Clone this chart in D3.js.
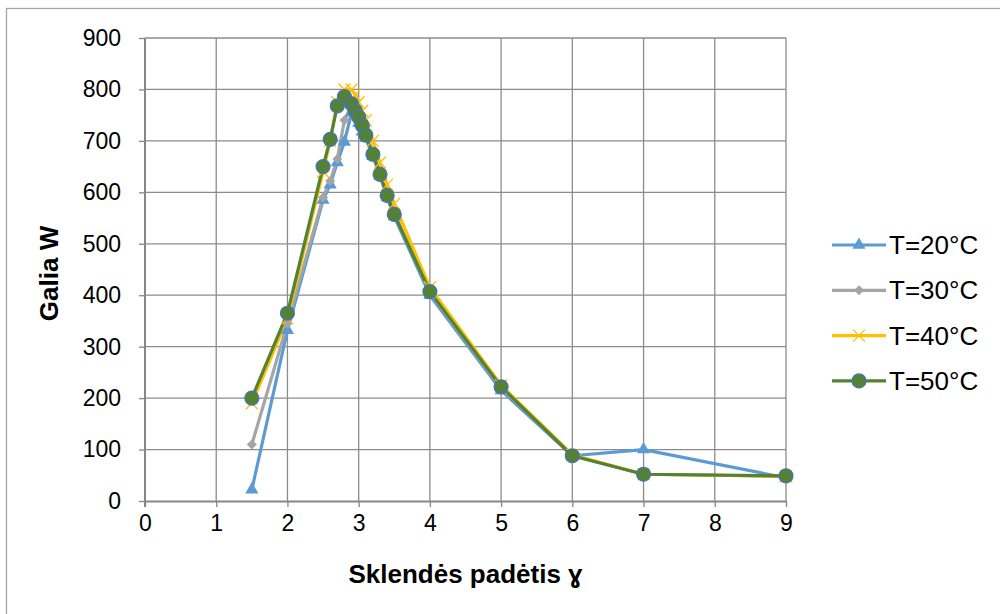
<!DOCTYPE html>
<html>
<head>
<meta charset="utf-8">
<script src="https://cdn.jsdelivr.net/npm/d3@7"></script>
<style>
  body { margin: 0; background: #fff; }
  text { font-family: "Liberation Sans", Arial, sans-serif; }
</style>
</head>
<body>
<div id="chart"></div>
<script>
// Data
var positions = [1.5, 2, 2.5, 2.6, 2.7, 2.8, 2.9, 2.95, 3.0, 3.05, 3.1, 3.2, 3.3, 3.4, 3.5, 4, 5, 6, 7, 9];
var t20 = [22, 332, 585, 615, 658, 698, 755, 750, 735, 718, 705, 670, 632, 590, 553, 400, 215, 88, 100, 45];
var t30 = [110, 345, 590, 622, 665, 740, 770, 760, 748, 733, 715, 678, 640, 598, 560, 405, 220, 88, 52, 48];
var t40 = [190, 355, 640, 700, 775, 800, 800, 790, 775, 758, 740, 700, 658, 615, 578, 415, 225, 90, 52, 48];
var t50 = [200, 365, 650, 703, 768, 786, 772, 759, 746, 730, 711, 674, 635, 594, 557, 407, 222, 88, 52, 49];
var seriesNames = ["T=20°C", "T=30°C", "T=40°C", "T=50°C"];
var xTicks = [0, 1, 2, 3, 4, 5, 6, 7, 8, 9];
var yTicks = [0, 100, 200, 300, 400, 500, 600, 700, 800, 900];

var svgWidth = 1000;
var svgHeight = 614;
var margin = { top: 38, right: 214, bottom: 113, left: 145 };
var width = svgWidth - margin.left - margin.right;
var height = svgHeight - margin.top - margin.bottom;

var series = [
  { name: seriesNames[0], values: t20, color: "#5B9BD5", marker: "triangle" },
  { name: seriesNames[1], values: t30, color: "#A5A5A5", marker: "diamond" },
  { name: seriesNames[2], values: t40, color: "#FFC000", marker: "cross" },
  { name: seriesNames[3], values: t50, color: "#548235", marker: "circle" }
];

var svg = d3.select("#chart")
  .append("svg")
  .attr("width", svgWidth)
  .attr("height", svgHeight);

// chart border
svg.append("rect")
  .attr("x", 6.5).attr("y", 8.5)
  .attr("width", 1010).attr("height", 620)
  .attr("fill", "none")
  .attr("stroke", "#A6A6A6")
  .attr("stroke-width", 1.3);

var chartGroup = svg.append("g")
  .attr("transform", `translate(${margin.left}, ${margin.top})`);

var xScale = d3.scaleLinear().domain([0, 9]).range([0, width]);
var yScale = d3.scaleLinear().domain([0, 900]).range([height, 0]);

// gridlines
chartGroup.append("g")
  .selectAll("line.hg")
  .data(yTicks.slice(1))
  .enter()
  .append("line")
  .attr("x1", 0).attr("x2", width)
  .attr("y1", d => yScale(d)).attr("y2", d => yScale(d))
  .attr("stroke", "#8C8C8C").attr("stroke-width", 1.3);

chartGroup.append("g")
  .selectAll("line.vg")
  .data(xTicks.slice(1))
  .enter()
  .append("line")
  .attr("x1", d => xScale(d)).attr("x2", d => xScale(d))
  .attr("y1", 0).attr("y2", height)
  .attr("stroke", "#8C8C8C").attr("stroke-width", 1.3);

// axes
var xAxis = d3.axisBottom(xScale).tickValues(xTicks).tickSize(6).tickSizeOuter(0).tickPadding(8);
var yAxis = d3.axisLeft(yScale).tickValues(yTicks).tickSize(6).tickSizeOuter(0).tickPadding(18);

var gx = chartGroup.append("g")
  .attr("transform", `translate(0, ${height})`)
  .call(xAxis);
var gy = chartGroup.append("g").call(yAxis);

[gx, gy].forEach(function (g) {
  g.select(".domain").attr("stroke", "#868686").attr("stroke-width", 2);
  g.selectAll(".tick line").attr("stroke", "#868686").attr("stroke-width", 1.3);
  g.selectAll(".tick text")
    .attr("font-family", "Liberation Sans, Arial, sans-serif")
    .attr("font-size", "23px")
    .attr("fill", "#000");
});
gy.select(".domain").attr("d", `M0,${height + 6}V0`);

// lines
var line = d3.line()
  .x((d, i) => xScale(positions[i]))
  .y(d => yScale(d));

chartGroup.selectAll("path.series")
  .data(series)
  .enter()
  .append("path")
  .attr("fill", "none")
  .attr("stroke", d => d.color)
  .attr("stroke-width", 3.2)
  .attr("stroke-linejoin", "round")
  .attr("d", d => line(d.values));

function drawMarker(g, type, color) {
  if (type === "triangle") {
    g.append("path").attr("d", d3.symbol(d3.symbolTriangle, 75)()).attr("fill", color);
  } else if (type === "diamond") {
    g.append("path").attr("d", "M0,-5L5,0L0,5L-5,0Z").attr("fill", color);
  } else if (type === "cross") {
    g.append("path").attr("d", "M-6,-6L6,6M-6,6L6,-6")
      .attr("stroke", color).attr("stroke-width", 1.3).attr("fill", "none");
  } else {
    g.append("circle").attr("r", 7).attr("fill", color)
      .attr("stroke", "#4472C4").attr("stroke-width", 1.2);
  }
}

// markers
series.forEach(function (s) {
  s.values.forEach(function (v, i) {
    var g = chartGroup.append("g")
      .attr("transform", `translate(${xScale(positions[i])}, ${yScale(v)})`);
    drawMarker(g, s.marker, s.color);
  });
});

// axis titles
chartGroup.append("text")
  .attr("transform", "rotate(-90)")
  .attr("x", -height / 2 - 4)
  .attr("y", -87)
  .attr("text-anchor", "middle")
  .attr("font-weight", "bold")
  .attr("font-size", "26px")
  .text("Galia W");

chartGroup.append("text")
  .attr("x", width / 2)
  .attr("y", height + 82)
  .attr("text-anchor", "middle")
  .attr("font-weight", "bold")
  .attr("font-size", "26px")
  .text("Sklendės padėtis ɣ");

// legend
var legend = svg.append("g").attr("transform", "translate(832, 245)");
series.forEach(function (s, i) {
  var row = legend.append("g").attr("transform", `translate(0, ${i * 45.3})`);
  row.append("line")
    .attr("x1", 0).attr("x2", 54).attr("y1", 0).attr("y2", 0)
    .attr("stroke", s.color).attr("stroke-width", 3.2);
  var m = row.append("g").attr("transform", "translate(27,0)");
  drawMarker(m, s.marker, s.color);
  row.append("text")
    .attr("x", 57).attr("y", 9)
    .attr("font-size", "26px")
    .text(s.name);
});
</script>
</body>
</html>
